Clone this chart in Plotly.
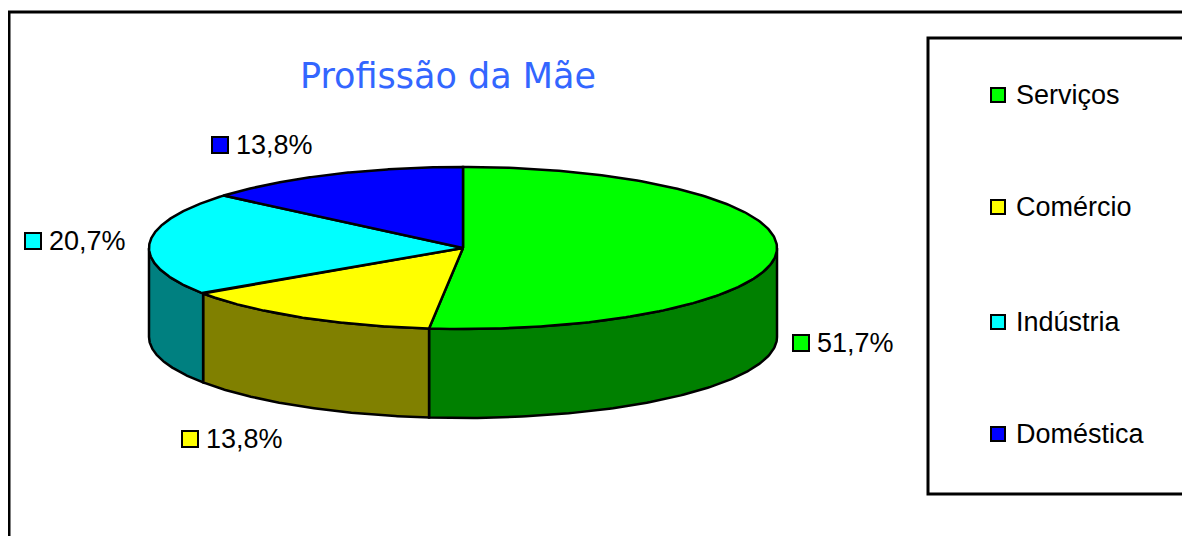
import numpy as np
import plotly.graph_objects as go

# ---- data ----
categories = ["Serviços", "Comércio", "Indústria", "Doméstica"]
counts = [15, 4, 6, 4]
pct_labels = ["51,7%", "13,8%", "20,7%", "13,8%"]

# ---- styles ----
top_colors = ["#00FF00", "#FFFF00", "#00FFFF", "#0000FF"]
side_colors = ["#008000", "#808000", "#008080", "#000080"]
W, H = 1190, 536
PAGE_MARGIN = 8  # default body margin of the html page
CX, CY, RX, RY, DEPTH = 463, 248, 314, 81, 89
OUTLINE = dict(color="black", width=2.5)
LABEL_FONT = dict(family="Liberation Sans, Arial", size=27, color="black")
# label anchor (key square centre) for each slice
label_pos = [(801, 343), (190, 439), (33, 241), (220, 145)]
legend_y = [95, 207, 322, 434]

total = sum(counts)
fracs = [c / total for c in counts]
bounds = np.concatenate([[0.0], np.cumsum(fracs)]) * 2 * np.pi


def pt(theta, dy=0.0):
    return CX + RX * np.sin(theta), CY - RY * np.cos(theta) + dy


fig = go.Figure()

# side faces (front half only: theta in [pi/2, 3pi/2])
for i in range(len(counts)):
    t0, t1 = bounds[i], bounds[i + 1]
    s0, s1 = max(t0, np.pi / 2), min(t1, 3 * np.pi / 2)
    if s1 <= s0:
        continue
    th = np.linspace(s0, s1, 120)
    xt, yt = pt(th)
    xb, yb = pt(th[::-1], DEPTH)
    xs = np.concatenate([xt, xb, xt[:1]])
    ys = np.concatenate([yt, yb, yt[:1]])
    fig.add_trace(go.Scatter(x=xs, y=ys, mode="lines", fill="toself",
                             fillcolor=side_colors[i], line=OUTLINE,
                             hoverinfo="skip", showlegend=False))

# top faces
for i in range(len(counts)):
    th = np.linspace(bounds[i], bounds[i + 1], 200)
    xa, ya = pt(th)
    xs = np.concatenate([[CX], xa, [CX]])
    ys = np.concatenate([[CY], ya, [CY]])
    fig.add_trace(go.Scatter(x=xs, y=ys, mode="lines", fill="toself",
                             fillcolor=top_colors[i], line=OUTLINE,
                             name=categories[i], hoverinfo="text",
                             text=f"{categories[i]}: {pct_labels[i]}",
                             showlegend=False))

shapes = []
annotations = []

# outer chart border
shapes.append(dict(type="rect", xref="x", yref="y", x0=9, y0=12, x1=1215, y1=560,
                   line=dict(color="black", width=3), fillcolor="rgba(0,0,0,0)"))
# legend box
shapes.append(dict(type="rect", xref="x", yref="y", x0=928, y0=38, x1=1215, y1=494,
                   line=dict(color="black", width=3), fillcolor="white", layer="below"))

# data labels
for i, (lx, ly) in enumerate(label_pos):
    k = 8
    shapes.append(dict(type="rect", xref="x", yref="y", x0=lx - k, x1=lx + k,
                       y0=ly - k, y1=ly + k, fillcolor=top_colors[i],
                       line=dict(color="black", width=2)))
    annotations.append(dict(x=lx + k + 6, y=ly, xref="x", yref="y", text=pct_labels[i],
                            showarrow=False, xanchor="left", yanchor="middle",
                            font=LABEL_FONT))

# legend entries
for i, ly in enumerate(legend_y):
    k = 7
    shapes.append(dict(type="rect", xref="x", yref="y", x0=998 - k, x1=998 + k,
                       y0=ly - k, y1=ly + k, fillcolor=top_colors[i],
                       line=dict(color="black", width=2)))
    annotations.append(dict(x=1014, y=ly, xref="x", yref="y", text=categories[i],
                            showarrow=False, xanchor="left", yanchor="middle",
                            font=LABEL_FONT))

# title
annotations.append(dict(x=448, y=76, xref="x", yref="y", text="Profissão da Mãe",
                        showarrow=False, xanchor="center", yanchor="middle",
                        font=dict(family="DejaVu Sans", size=35,
                                  color="#3366FF")))

fig.update_layout(
    width=W - PAGE_MARGIN, height=H - PAGE_MARGIN,
    margin=dict(l=0, r=0, t=0, b=0),
    paper_bgcolor="white", plot_bgcolor="white",
    xaxis=dict(range=[PAGE_MARGIN, W], visible=False, fixedrange=True),
    yaxis=dict(range=[H, PAGE_MARGIN], visible=False, fixedrange=True),
    shapes=shapes, annotations=annotations,
    showlegend=False,
)

fig.write_html("out.html")
